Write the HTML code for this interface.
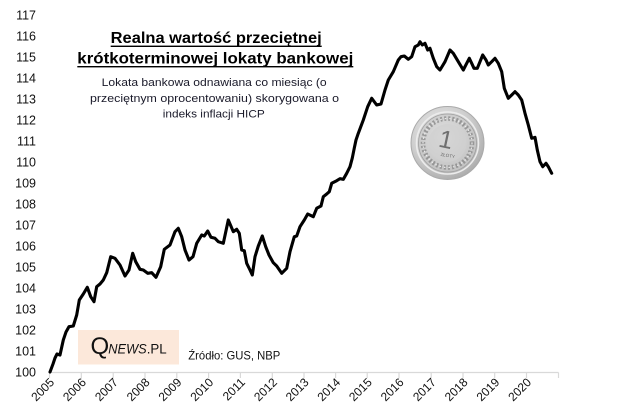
<!DOCTYPE html>
<html>
<head>
<meta charset="utf-8">
<style>
  html, body { margin:0; padding:0; background:#fff; }
  body { width:643px; height:416px; overflow:hidden; }
  svg { display:block; }
  text { font-family: "Liberation Sans", "DejaVu Sans", sans-serif; }
</style>
</head>
<body>
<svg width="643" height="416" viewBox="0 0 643 416" xmlns="http://www.w3.org/2000/svg">
  <defs>
    <radialGradient id="coinG" cx="0.42" cy="0.38" r="0.7">
      <stop offset="0" stop-color="#efefef"/>
      <stop offset="0.6" stop-color="#cfcfcf"/>
      <stop offset="1" stop-color="#a2a2a2"/>
    </radialGradient>
    <radialGradient id="coinIn" cx="0.45" cy="0.4" r="0.7">
      <stop offset="0" stop-color="#e2e2e2"/>
      <stop offset="1" stop-color="#bdbdbd"/>
    </radialGradient>
  </defs>
  <rect width="643" height="416" fill="#fff"/>

  <!-- Y axis labels -->
  <g font-size="12.5" fill="#111" text-anchor="end">
    <text x="36" y="19.5">117</text>
    <text x="36" y="40.5">116</text>
    <text x="36" y="61.5">115</text>
    <text x="36" y="82.5">114</text>
    <text x="36" y="103.5">113</text>
    <text x="36" y="124.5">112</text>
    <text x="36" y="145.5">111</text>
    <text x="36" y="166.5">110</text>
    <text x="36" y="187.5">109</text>
    <text x="36" y="208.5">108</text>
    <text x="36" y="229.5">107</text>
    <text x="36" y="250.5">106</text>
    <text x="36" y="271.5">105</text>
    <text x="36" y="292.5">104</text>
    <text x="36" y="313.5">103</text>
    <text x="36" y="334.5">102</text>
    <text x="36" y="355.5">101</text>
    <text x="36" y="376.5">100</text>
  </g>

  <!-- X axis -->
  <g stroke="#d9d9d9" stroke-width="1.2" fill="none">
    <line x1="49.5" y1="372.5" x2="558.5" y2="372.5"/>
    <line x1="49.5" y1="372.5" x2="49.5" y2="378"/>
    <line x1="81.3" y1="372.5" x2="81.3" y2="378"/>
    <line x1="113.2" y1="372.5" x2="113.2" y2="378"/>
    <line x1="145" y1="372.5" x2="145" y2="378"/>
    <line x1="176.8" y1="372.5" x2="176.8" y2="378"/>
    <line x1="208.6" y1="372.5" x2="208.6" y2="378"/>
    <line x1="240.4" y1="372.5" x2="240.4" y2="378"/>
    <line x1="272.3" y1="372.5" x2="272.3" y2="378"/>
    <line x1="304" y1="372.5" x2="304" y2="378"/>
    <line x1="335.6" y1="372.5" x2="335.6" y2="378"/>
    <line x1="367.2" y1="372.5" x2="367.2" y2="378"/>
    <line x1="399" y1="372.5" x2="399" y2="378"/>
    <line x1="431.2" y1="372.5" x2="431.2" y2="378"/>
    <line x1="463" y1="372.5" x2="463" y2="378"/>
    <line x1="494.7" y1="372.5" x2="494.7" y2="378"/>
    <line x1="526.5" y1="372.5" x2="526.5" y2="378"/>
    <line x1="558.5" y1="372.5" x2="558.5" y2="378"/>
  </g>
  <g font-size="12" fill="#111" text-anchor="end">
    <text transform="translate(55,383) rotate(-45)">2005</text>
    <text transform="translate(86.8,383) rotate(-45)">2006</text>
    <text transform="translate(118.7,383) rotate(-45)">2007</text>
    <text transform="translate(150.5,383) rotate(-45)">2008</text>
    <text transform="translate(182.3,383) rotate(-45)">2009</text>
    <text transform="translate(214.1,383) rotate(-45)">2010</text>
    <text transform="translate(245.9,383) rotate(-45)">2011</text>
    <text transform="translate(277.8,383) rotate(-45)">2012</text>
    <text transform="translate(309.5,383) rotate(-45)">2013</text>
    <text transform="translate(341.1,383) rotate(-45)">2014</text>
    <text transform="translate(372.7,383) rotate(-45)">2015</text>
    <text transform="translate(404.5,383) rotate(-45)">2016</text>
    <text transform="translate(436.7,383) rotate(-45)">2017</text>
    <text transform="translate(468.5,383) rotate(-45)">2018</text>
    <text transform="translate(500.2,383) rotate(-45)">2019</text>
    <text transform="translate(532,383) rotate(-45)">2020</text>
  </g>

  <!-- Title -->
  <g fill="#000" font-weight="bold" font-size="15.5" text-anchor="middle">
    <text x="216.2" y="43" textLength="211" lengthAdjust="spacingAndGlyphs">Realna wartość przeciętnej</text>
    <text x="215.3" y="63.5" textLength="276" lengthAdjust="spacingAndGlyphs">krótkoterminowej lokaty bankowej</text>
  </g>
  <rect x="110.7" y="45.6" width="211" height="1.4" fill="#000"/>
  <rect x="77.3" y="66" width="276" height="1.4" fill="#000"/>

  <!-- Subtitle -->
  <g fill="#1a1a2a" font-size="11" text-anchor="middle">
    <text x="214.2" y="86" textLength="225" lengthAdjust="spacingAndGlyphs">Lokata bankowa odnawiana co miesiąc (o</text>
    <text x="214.5" y="102" textLength="249" lengthAdjust="spacingAndGlyphs">przeciętnym oprocentowaniu) skorygowana o</text>
    <text x="213.8" y="117.5" textLength="102" lengthAdjust="spacingAndGlyphs">indeks inflacji HICP</text>
  </g>

  <!-- Coin -->
  <g>
    <circle cx="447.5" cy="143" r="36.5" fill="url(#coinG)" stroke="#aaaaaa" stroke-width="1"/>
    <circle cx="447.5" cy="143" r="31" fill="none" stroke="#ececec" stroke-width="1.5"/>
    <circle cx="447.5" cy="143" r="29" fill="url(#coinIn)" stroke="#9f9f9f" stroke-width="0.8"/>
    <circle cx="447.5" cy="143" r="24.5" fill="none" stroke="#8a8a8a" stroke-width="4.5" stroke-dasharray="2 2" opacity="0.8"/>
    <circle cx="447.5" cy="143" r="24.5" fill="none" stroke="#f2f2f2" stroke-width="1.2" stroke-dasharray="1.5 3" opacity="0.9"/>
    <circle cx="447.5" cy="143" r="19" fill="#d0d0d0" opacity="0.7"/>
    <text x="446" y="148" font-family="Liberation Serif, serif" font-size="25" fill="#6f6f6f" text-anchor="middle" transform="rotate(12 446 140)">1</text>
    <text x="447.5" y="157" font-size="4.5" fill="#6a6a6a" text-anchor="middle" transform="rotate(10 447.5 157)">ZŁOTY</text>
  </g>

  <!-- Data line -->
  <polyline fill="none" stroke="#000" stroke-width="3.1" stroke-linejoin="round" stroke-linecap="round"
    points="50,372 53,364 55,358 57,354 60,355 63.3,340 66,332 69,326.7 73.3,326 76.7,315 79.3,300 83.3,294 87.3,287.3 90.7,296.7 94,301.7 96.7,286.7 100,284 103.3,280 106.7,272.7 110.7,256.7 115,258.3 120,265 125,276 129,270 132.7,253.3 135.7,261.7 140,269.3 143.3,270 147.7,273.3 151.7,272.7 156,277.3 160.7,266.7 164.3,249.3 170,245 175,231.7 178.3,228.3 181.7,236.7 185,250 189,260 193,256.7 196.7,243.3 201.7,235 204.3,236 207.7,231 211,237.3 215,238.3 218.3,241.7 223.3,243.3 228.3,220 233.3,231.7 236.7,229.3 239.3,233.3 241.7,250 244.3,250.7 246.7,263.3 250,270 252.3,275 255,256.7 258.3,246 262.3,236 265.7,246.7 269,255 273.3,262.7 276.7,266 281.7,273.3 286.7,268.3 290,251.7 294.3,236.7 296.7,236 300,226.7 304.3,220 307.7,214 313.3,216.7 316.7,208.3 321,206 323.3,196.7 326.7,194 329.3,191.7 331.7,183.3 336.7,180.7 340,178.7 343.3,179.3 346.7,173.3 350,166.7 352.3,158 354.3,148 356,140 358.3,133.3 363.3,120 367.7,106.7 371.7,98.3 376.7,105 381,104 385,90 388.3,80 393.3,71.7 398.3,60 401,56.7 404.3,56 408.3,59.3 411.7,56.7 415,46.7 418.3,45 420,41.7 422.3,45 425,43.3 427.7,50 430,48.3 433.3,58.3 436.7,66.7 440,70 445,61.7 450,50 453.3,53.3 458.3,61.7 463.3,70 466.7,63.3 469.3,58.3 471.7,63.3 474,68.3 477.3,68.3 480,61.7 482.7,55 486,60 488.3,65 491.7,61.7 495,58.3 498.3,63.3 501.7,71.7 504.3,88.3 508.3,98.3 511.7,95 515,91.7 518.3,95 521.7,100 525,113.3 528.3,125 531.7,138.3 535,137.3 537.3,150 540,161.7 542.7,166.7 546,163.3 548.3,166.7 551.7,173.3"/>

  <!-- Logo -->
  <rect x="78" y="330" width="101" height="34.5" fill="#fce8da"/>
  <text x="90.5" y="354" font-family="Liberation Serif, serif" font-size="24" fill="#111">Q</text>
  <text x="108.3" y="353.5" font-size="13.5" font-style="italic" fill="#111" textLength="38.4" lengthAdjust="spacingAndGlyphs">NEWS</text>
  <text x="146.7" y="353.5" font-size="13.5" fill="#111" textLength="20" lengthAdjust="spacingAndGlyphs">.PL</text>

  <!-- Source -->
  <text x="188.3" y="359.3" font-size="12" fill="#111" textLength="92" lengthAdjust="spacingAndGlyphs">Źródło: GUS, NBP</text>
</svg>
</body>
</html>
